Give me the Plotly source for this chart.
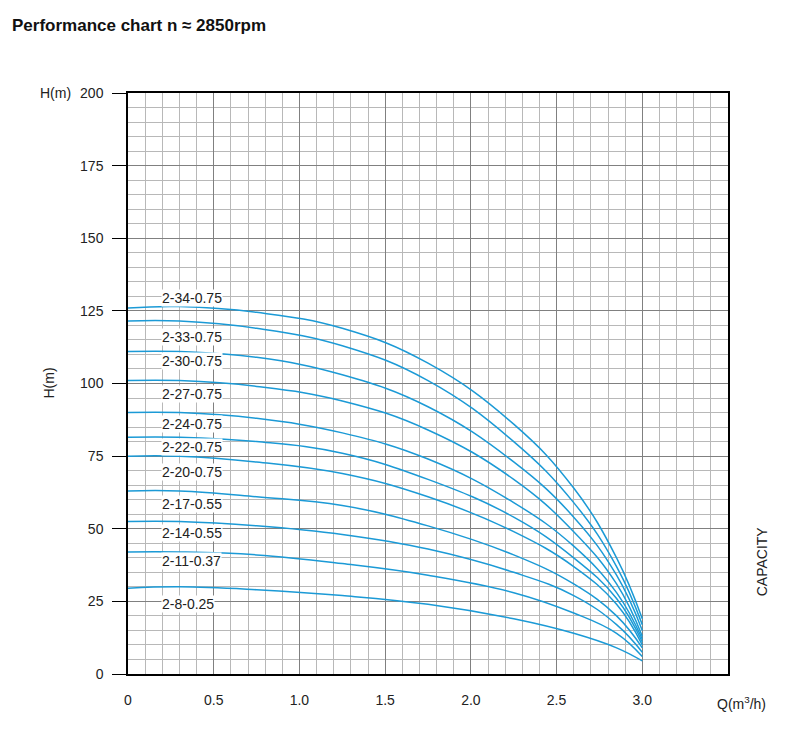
import plotly.graph_objects as go

# pump models and their head curves (H in m vs Q in m3/h)
models = ["2-34-0.75", "2-33-0.75", "2-30-0.75", "2-27-0.75", "2-24-0.75", "2-22-0.75",
          "2-20-0.75", "2-17-0.55", "2-14-0.55", "2-11-0.37", "2-8-0.25"]
q = [0, 0.3, 0.75, 1.25, 1.75, 2.25, 2.6, 2.85, 3.0]
heads = [
    [126, 126.5, 124.5, 119, 107, 86, 64, 40, 19],
    [121.5, 121.5, 119, 113, 101, 80, 59, 37, 17],
    [111, 111, 109, 103, 92, 73, 54, 34, 15],
    [101, 101, 99, 94, 84, 67, 49, 31, 13],
    [90, 90, 88, 83, 74, 59, 44, 28, 12],
    [81.5, 81.5, 80, 76, 67, 54, 40, 26, 11],
    [75, 75, 73, 69, 61, 49, 37, 24, 10],
    [63, 63, 61, 58, 51, 41, 31, 20, 9],
    [52.5, 52.5, 51, 48, 43, 35, 27, 17, 7.5],
    [42, 42, 41, 38, 34, 28, 21, 14, 6],
    [29.5, 30, 29, 27, 24, 19, 14, 9, 4.5],
]
label_y = [129.4, 116, 107.7, 96.4, 86, 78, 69.5, 58.5, 48.5, 39, 24]
x_ticks = [0, 0.5, 1.0, 1.5, 2.0, 2.5, 3.0]
x_tick_text = ["0", "0.5", "1.0", "1.5", "2.0", "2.5", "3.0"]
y_ticks = [0, 25, 50, 75, 100, 125, 150, 175, 200]

fig = go.Figure()
for m, h in zip(models, heads):
    fig.add_trace(go.Scatter(x=q, y=h, mode="lines", name=m,
                             line=dict(color="#1b9ad6", width=1.5, shape="spline", smoothing=1.2)))

for m, ly in zip(models, label_y):
    fig.add_annotation(x=0.19, y=ly, text=m, showarrow=False, xanchor="left",
                       bgcolor="white", borderpad=0, font=dict(size=14, color="#222"))

axis_common = dict(showline=True, linecolor="black", linewidth=1.5, mirror=True,
                   showgrid=True, gridcolor="#808080", gridwidth=1.2, zeroline=False,
                   automargin=False, tickfont=dict(size=14, color="#222"))
fig.update_xaxes(range=[0, 3.5], tickvals=x_ticks, ticktext=x_tick_text, ticks="",
                 minor=dict(dtick=0.1, showgrid=True, gridcolor="#b8b8b8", gridwidth=1),
                 ticklabelstandoff=12, **axis_common)
fig.update_yaxes(range=[0, 200], tickvals=y_ticks, ticks="outside", ticklen=14, tickcolor="black",
                 minor=dict(dtick=5, showgrid=True, gridcolor="#b8b8b8", gridwidth=1),
                 ticklabelstandoff=6, **axis_common)

fig.add_annotation(text="H(m)", xref="paper", yref="paper", x=-0.15, y=0.5, textangle=-90,
                   showarrow=False, font=dict(size=14, color="#222"))
fig.add_annotation(text="H(m)", xref="paper", yref="paper", x=-0.15, y=1.0, yanchor="middle",
                   showarrow=False, font=dict(size=14, color="#222"))
fig.add_annotation(text="CAPACITY", xref="paper", yref="paper", x=1.058, y=0.13, textangle=-90,
                   xanchor="center", showarrow=False, font=dict(size=14, color="#222"))
fig.add_annotation(text="Q(m<sup>3</sup>/h)", xref="paper", yref="paper", x=1.067, y=-0.05,
                   yanchor="middle", showarrow=False, font=dict(size=14, color="#222"))

fig.update_layout(
    width=800, height=740, showlegend=False,
    plot_bgcolor="white", paper_bgcolor="white",
    font=dict(family="Liberation Sans, Arial, sans-serif"),
    margin=dict(l=120, r=80, t=85, b=74),
    title=dict(text="<b>Performance chart n ≈ 2850rpm</b>", x=0.005, xanchor="left",
               y=0.985, yanchor="top", font=dict(size=17, color="#111")),
)

fig.write_html("out.html")
